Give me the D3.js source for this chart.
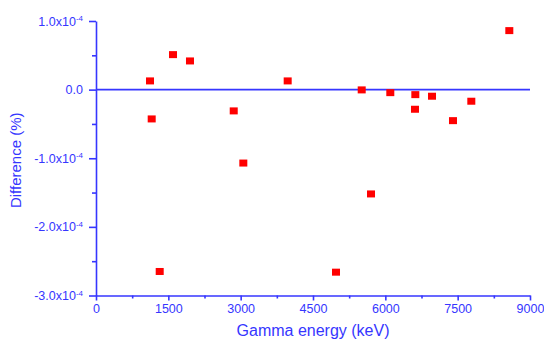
<!DOCTYPE html>
<html>
<head>
<meta charset="utf-8">
<script src="https://cdn.jsdelivr.net/npm/d3@7"></script>
<style>
  body { margin: 0; background: #fff; }
  svg { display: block; font-family: "Liberation Sans", Arial, sans-serif; }
</style>
</head>
<body>
<div id="chart"></div>
<script>
// gamma energies (keV) and relative differences (%)
var energy = [1120, 1155, 1597, 1949, 1321, 2856, 3055, 3975, 4977,
              5510, 5703, 6103, 6622, 6615, 6968, 7403, 7783, 8571];
var diff = [0.127e-4, -0.427e-4, 0.51e-4, 0.418e-4, -2.65e-4, -0.31e-4, -1.07e-4, 0.127e-4, -2.66e-4,
            -0.004e-4, -1.52e-4, -0.044e-4, -0.073e-4, -0.286e-4, -0.096e-4, -0.452e-4, -0.169e-4, 0.86e-4];

var xTicks = [0, 1500, 3000, 4500, 6000, 7500, 9000];
var xMinor = [750, 2250, 3750, 5250, 6750, 8250];
var yTicks = [-3e-4, -2e-4, -1e-4, 0, 1e-4];
var yTickLabels = ["-3.0x10", "-2.0x10", "-1.0x10", "0.0", "1.0x10"];
var yMinor = [-2.5e-4, -1.5e-4, -0.5e-4, 0.5e-4];

var blue = "#3636ff";
var width = 544, height = 339;

var svg = d3.select("#chart").append("svg")
  .attr("width", width)
  .attr("height", height);

var x = d3.scaleLinear().domain([0, 9000]).range([96, 530]);
var y = d3.scaleLinear().domain([-3e-4, 1e-4]).range([295.5, 21]);

// minor ticks first (no labels)
svg.append("g")
  .attr("transform", "translate(0," + y(-3e-4) + ")")
  .call(d3.axisBottom(x).tickValues(xMinor).tickSize(3).tickSizeOuter(0).tickFormat(""))
  .call(g => g.select(".domain").remove());

svg.append("g")
  .attr("transform", "translate(" + x(0) + ",0)")
  .call(d3.axisLeft(y).tickValues(yMinor).tickSize(4).tickSizeOuter(0).tickFormat(""))
  .call(g => g.select(".domain").remove());

// x axis
var xAxis = svg.append("g")
  .attr("transform", "translate(0," + y(-3e-4) + ")")
  .call(d3.axisBottom(x).tickValues(xTicks).tickSize(5).tickSizeOuter(0).tickPadding(4).tickFormat(d3.format("d")));

// y axis
var yAxis = svg.append("g")
  .attr("transform", "translate(" + x(0) + ",0)")
  .call(d3.axisLeft(y).tickValues(yTicks).tickSize(7).tickSizeOuter(0).tickPadding(6).tickFormat(""));

yAxis.selectAll(".tick text").each(function(d, i) {
  var t = d3.select(this);
  t.text(null);
  t.append("tspan").text(yTickLabels[i]);
  if (d !== 0) {
    t.append("tspan").attr("dy", "-0.55em").attr("font-size", "8px").text("-4");
  }
});

svg.selectAll(".domain, .tick line")
  .attr("stroke", blue)
  .attr("stroke-width", 1.6);
svg.selectAll(".tick text")
  .attr("fill", blue)
  .attr("font-size", "12.5px")
  .attr("font-family", "Liberation Sans, Arial, sans-serif");

// zero line
svg.append("line")
  .attr("x1", x(0)).attr("x2", x(9000))
  .attr("y1", y(0)).attr("y2", y(0))
  .attr("stroke", blue)
  .attr("stroke-width", 1.6);

// points
svg.append("g").selectAll("rect")
  .data(energy)
  .enter().append("rect")
  .attr("x", (d) => x(d) - 4)
  .attr("y", (d, i) => y(diff[i]) - 3.5)
  .attr("width", 8)
  .attr("height", 7)
  .attr("fill", "#ff0000");

// axis titles
svg.append("text")
  .attr("x", (x(0) + x(9000)) / 2)
  .attr("y", 336)
  .attr("text-anchor", "middle")
  .attr("fill", blue)
  .attr("font-size", "16px")
  .text("Gamma energy (keV)");

svg.append("text")
  .attr("transform", "translate(21," + ((y(1e-4) + y(-3e-4)) / 2 + 2) + ") rotate(-90)")
  .attr("text-anchor", "middle")
  .attr("fill", blue)
  .attr("font-size", "15px")
  .text("Difference (%)");
</script>
</body>
</html>
